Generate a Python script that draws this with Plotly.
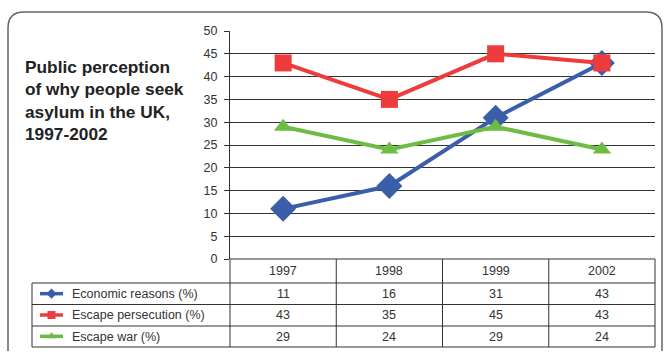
import plotly.graph_objects as go

years = ["1997", "1998", "1999", "2002"]
economic = [11, 16, 31, 43]
persecution = [43, 35, 45, 43]
war = [29, 24, 29, 24]
series_names = ["Economic reasons (%)", "Escape persecution (%)", "Escape war (%)"]
series_values = [economic, persecution, war]
colors = ["#3b5eab", "#ee3b3b", "#6dbd45"]
symbols = ["diamond", "square", "triangle-up"]
marker_sizes = [20, 17, 16]
title_text = "Public perception<br>of why people seek<br>asylum in the UK,<br>1997-2002"

W, H = 665, 352
def px(x):
    return x / W
def py(y):
    return 1 - y / H

FONT = "Liberation Sans, Arial, sans-serif"
GRID = "#333333"

fig = go.Figure()
for name, vals, c, s, ms in zip(series_names, series_values, colors, symbols, marker_sizes):
    fig.add_trace(go.Scatter(x=years, y=vals, mode="lines+markers", name=name,
                             line=dict(color=c, width=4),
                             marker=dict(symbol=s, size=ms, color=c),
                             showlegend=False, xaxis="x", yaxis="y"))

# legend icons in table's label column
for i, (name, c, s) in enumerate(zip(series_names, colors, symbols)):
    fig.add_trace(go.Scatter(x=[40, 63], y=[i + 0.5, i + 0.5], mode="lines",
                             line=dict(color=c, width=3.5), showlegend=False,
                             xaxis="x2", yaxis="y2", hoverinfo="skip"))
    fig.add_trace(go.Scatter(x=[51.5], y=[i + 0.5], mode="markers",
                             marker=dict(symbol=s, size=8, color=c), showlegend=False,
                             xaxis="x2", yaxis="y2", hoverinfo="skip"))

x0, x1 = 230, 655
ytop, ybot = 31, 259
row_lines = [259, 283, 304.5, 326, 347]

shapes = []
# outer rounded box
r = 16
bx0, by0, bx1, by1 = 8, 12, 662, 351
path = (f"M {px(bx0)},{py(by1)} L {px(bx0)},{py(by0 + r)} "
        f"Q {px(bx0)},{py(by0)} {px(bx0 + r)},{py(by0)} "
        f"L {px(bx1 - r)},{py(by0)} Q {px(bx1)},{py(by0)} {px(bx1)},{py(by0 + r)} "
        f"L {px(bx1)},{py(by1)}")
shapes.append(dict(type="path", path=path, xref="paper", yref="paper",
                   line=dict(color="#666666", width=1.5)))
# table horizontal lines
for k, yy in enumerate(row_lines):
    xs = x0 if k == 0 else 32
    shapes.append(dict(type="line", xref="paper", yref="paper",
                       x0=px(xs), x1=px(x1), y0=py(yy), y1=py(yy),
                       line=dict(color=GRID, width=1)))
# table vertical lines
col_edges = [x0 + (x1 - x0) * k / 4 for k in range(5)]
for k, xx in enumerate(col_edges):
    shapes.append(dict(type="line", xref="paper", yref="paper",
                       x0=px(xx), x1=px(xx), y0=py(259), y1=py(347),
                       line=dict(color=GRID, width=1)))
shapes.append(dict(type="line", xref="paper", yref="paper",
                   x0=px(32), x1=px(32), y0=py(283), y1=py(347),
                   line=dict(color=GRID, width=1)))

annotations = [dict(text=title_text, x=px(23), y=py(100), xref="paper", yref="paper",
                    xanchor="left", yanchor="middle", align="left", showarrow=False,
                    font=dict(family=FONT, size=17.3, color="#222222", weight="bold"))]
cell_font = dict(family=FONT, size=12.5, color="#333333")
row_centers = [(row_lines[k] + row_lines[k + 1]) / 2 for k in range(4)]
for j, yr in enumerate(years):
    annotations.append(dict(text=yr, x=j, xref="x", y=py(row_centers[0]), yref="paper",
                            showarrow=False, font=cell_font, xanchor="center", yanchor="middle"))
for i, (name, vals) in enumerate(zip(series_names, series_values)):
    annotations.append(dict(text=name, x=px(70), xref="paper", y=py(row_centers[i + 1]),
                            yref="paper", showarrow=False, font=cell_font,
                            xanchor="left", yanchor="middle"))
    for j, v in enumerate(vals):
        annotations.append(dict(text=str(v), x=j, xref="x", y=py(row_centers[i + 1]),
                                yref="paper", showarrow=False, font=cell_font,
                                xanchor="center", yanchor="middle"))

fig.update_layout(
    template="none",
    width=W, height=H, margin=dict(l=0, r=0, t=0, b=0, pad=0, autoexpand=False),
    paper_bgcolor="white", plot_bgcolor="rgba(0,0,0,0)",
    font=dict(family=FONT),
    xaxis=dict(domain=[px(x0), px(x1)], type="category", range=[-0.5, 3.5],
               showticklabels=False, showgrid=False, zeroline=False, showline=False,
               ticks="", fixedrange=True, automargin=False),
    yaxis=dict(domain=[py(ybot), py(ytop)], range=[0, 50], dtick=5,
               showgrid=True, gridcolor=GRID, gridwidth=1, zeroline=False,
               showline=True, linecolor=GRID, linewidth=1,
               ticks="outside", ticklen=5, tickcolor=GRID, tickwidth=1,
               tickfont=dict(family=FONT, size=12.5, color="#333333"), ticklabelstandoff=4,
               automargin=False, fixedrange=True),
    xaxis2=dict(domain=[px(32), px(230)], range=[32, 230], visible=False, fixedrange=True,
                automargin=False),
    yaxis2=dict(domain=[py(347), py(283)], range=[3, 0], visible=False, fixedrange=True,
                automargin=False),
    shapes=shapes, annotations=annotations,
)

fig.write_html("out.html")
